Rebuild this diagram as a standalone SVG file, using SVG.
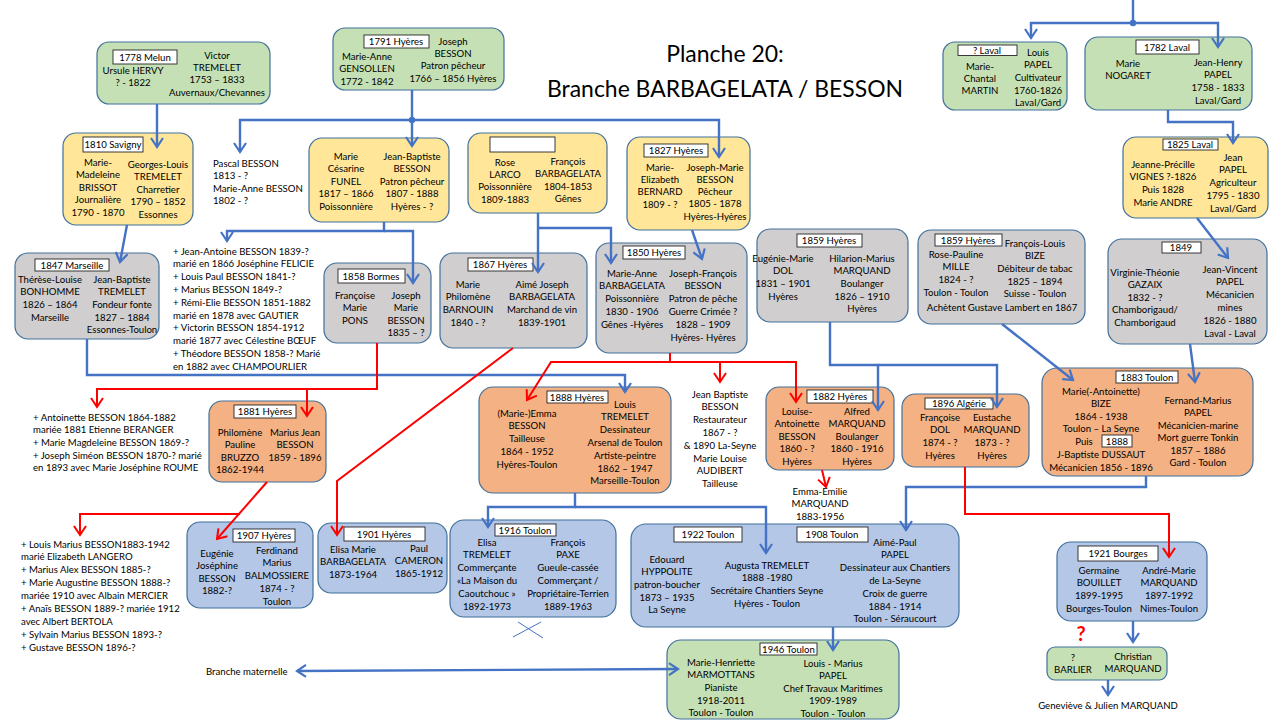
<svg xmlns="http://www.w3.org/2000/svg" width="1280" height="720" viewBox="0 0 1280 720">
<defs>
<style>
.nb{stroke:#41719C;stroke-width:1.2}
.g{fill:#C5E0B4}.y{fill:#FFE699}.gr{fill:#D0CECE}.o{fill:#F4B183}.b{fill:#B4C7E7}
.lb{fill:#fff;stroke:#262626;stroke-width:0.9}
text{font-family:Lato,"Liberation Sans",sans-serif;font-size:9.6px;fill:#000}
.c{text-anchor:middle}
.ttl{font-size:23px;text-anchor:middle;fill:#000}
.cb{fill:none;stroke:#4472C4;stroke-width:2.4}
.cr{fill:none;stroke:#FF0000;stroke-width:2}
.ab{marker-end:url(#mb)}.ar{marker-end:url(#mr)}
</style>
<marker id="mb" viewBox="0 0 12 14" refX="10" refY="7" markerWidth="12" markerHeight="14" markerUnits="userSpaceOnUse" orient="auto"><path d="M1,1 L10,7 L1,13" fill="none" stroke="#4472C4" stroke-width="2.2"/></marker>
<marker id="mbs" viewBox="0 0 12 14" refX="10" refY="7" markerWidth="12" markerHeight="14" markerUnits="userSpaceOnUse" orient="auto-start-reverse"><path d="M1,1 L10,7 L1,13" fill="none" stroke="#4472C4" stroke-width="2.2"/></marker>
<marker id="mr" viewBox="0 0 12 14" refX="10" refY="7" markerWidth="12" markerHeight="14" markerUnits="userSpaceOnUse" orient="auto"><path d="M1,1 L10,7 L1,13" fill="none" stroke="#FF0000" stroke-width="2"/></marker>
</defs>
<rect width="1280" height="720" fill="#fff"/>

<g id="title">
<text class="ttl" x="725" y="61.5">Planche 20:</text>
<text class="ttl" x="725" y="97" textLength="356" lengthAdjust="spacingAndGlyphs">Branche BARBAGELATA / BESSON</text>
</g>

<g id="n1778">
<rect class="nb g" x="97" y="42" width="173" height="62" rx="12"/>
<rect class="lb" x="113" y="50" width="64" height="14"/>
<text class="c" x="145" y="60.5">1778 Melun</text>
<text class="c" x="133" y="73.5"><tspan x="133">Ursule HERVY</tspan><tspan x="133" dy="12.5">? - 1822</tspan></text>
<text class="c" x="217" y="58.5"><tspan x="217">Victor</tspan><tspan x="217" dy="12.4">TREMELET</tspan><tspan x="217" dy="12.4">1753 – 1833</tspan><tspan x="217" dy="12.4">Auvernaux/Chevannes</tspan></text>
</g>

<g id="n1791">
<rect class="nb g" x="333" y="28" width="171" height="62" rx="12"/>
<rect class="lb" x="364" y="35" width="65" height="13"/>
<text class="c" x="396" y="45">1791 Hyères</text>
<text class="c" x="367" y="59.5"><tspan x="367">Marie-Anne</tspan><tspan x="367" dy="12.6">GENSOLLEN</tspan><tspan x="367" dy="12.6">1772 - 1842</tspan></text>
<text class="c" x="453" y="44.5"><tspan x="453">Joseph</tspan><tspan x="453" dy="12.4">BESSON</tspan><tspan x="453" dy="12.4">Patron pêcheur</tspan><tspan x="453" dy="12.4">1766 – 1856 Hyères</tspan></text>
</g>

<g id="n1810">
<rect class="nb y" x="63" y="133" width="130" height="92" rx="13"/>
<rect class="lb" x="83" y="137" width="60" height="15"/>
<text class="c" x="113" y="148">1810 Savigny</text>
<text class="c" x="98" y="165.5"><tspan x="98">Marie-</tspan><tspan x="98" dy="12.6">Madeleine</tspan><tspan x="98" dy="12.6">BRISSOT</tspan><tspan x="98" dy="12.6">Journalière</tspan><tspan x="98" dy="12.6">1790 - 1870</tspan></text>
<text class="c" x="158" y="167.5"><tspan x="158">Georges-Louis</tspan><tspan x="158" dy="12.6">TREMELET</tspan><tspan x="158" dy="12.6">Charretier</tspan><tspan x="158" dy="12.6">1790 – 1852</tspan><tspan x="158" dy="12.6">Essonnes</tspan></text>
</g>

<g id="pascal">
<text x="213" y="166.5"><tspan x="213">Pascal BESSON</tspan><tspan x="213" dy="12.5">1813 - ?</tspan><tspan x="213" dy="12.5">Marie-Anne BESSON</tspan><tspan x="213" dy="12.5">1802 - ?</tspan></text>
</g>

<g id="n1807">
<rect class="nb y" x="309" y="138" width="140" height="84" rx="13"/>
<text class="c" x="346" y="159.5"><tspan x="346">Marie</tspan><tspan x="346" dy="12.5">Césarine</tspan><tspan x="346" dy="12.5">FUNEL</tspan><tspan x="346" dy="12.5">1817 – 1866</tspan><tspan x="346" dy="12.5">Poissonnière</tspan></text>
<text class="c" x="412" y="159.5"><tspan x="412">Jean-Baptiste</tspan><tspan x="412" dy="12.5">BESSON</tspan><tspan x="412" dy="12.5">Patron pêcheur</tspan><tspan x="412" dy="12.5">1807 - 1888</tspan><tspan x="412" dy="12.5">Hyères - ?</tspan></text>
</g>

<g id="nLarco">
<rect class="nb y" x="468" y="133" width="139" height="80" rx="13"/>
<rect class="lb" x="490" y="137" width="65" height="15"/>
<text class="c" x="505" y="165.5"><tspan x="505">Rose</tspan><tspan x="505" dy="12.4">LARCO</tspan><tspan x="505" dy="12.4">Poissonnière</tspan><tspan x="505" dy="12.4">1809-1883</tspan></text>
<text class="c" x="568" y="164.5"><tspan x="568">François</tspan><tspan x="568" dy="12.6">BARBAGELATA</tspan><tspan x="568" dy="12.6">1804-1853</tspan><tspan x="568" dy="12.6">Gênes</tspan></text>
</g>

<g id="n1827">
<rect class="nb y" x="627" y="137" width="123" height="93" rx="13"/>
<rect class="lb" x="644" y="144" width="64" height="13"/>
<text class="c" x="676" y="154">1827 Hyères</text>
<text class="c" x="660" y="170.5"><tspan x="660">Marie-</tspan><tspan x="660" dy="12.4">Elizabeth</tspan><tspan x="660" dy="12.4">BERNARD</tspan><tspan x="660" dy="12.4">1809 - ?</tspan></text>
<text class="c" x="715" y="170.5"><tspan x="715">Joseph-Marie</tspan><tspan x="715" dy="12.3">BESSON</tspan><tspan x="715" dy="12.3">Pêcheur</tspan><tspan x="715" dy="12.3">1805 - 1878</tspan><tspan x="715" dy="12.3">Hyères-Hyères</tspan></text>
</g>

<g id="n1847">
<rect class="nb gr" x="15" y="253" width="144" height="86" rx="13"/>
<rect class="lb" x="35" y="259" width="74" height="12"/>
<text class="c" x="72" y="268.5">1847 Marseille</text>
<text class="c" x="50" y="282.5"><tspan x="50">Thérèse-Louise</tspan><tspan x="50" dy="12.7">BONHOMME</tspan><tspan x="50" dy="12.7">1826 – 1864</tspan><tspan x="50" dy="12.7">Marseille</tspan></text>
<text class="c" x="122" y="282.5"><tspan x="122">Jean-Baptiste</tspan><tspan x="122" dy="12.7">TREMELET</tspan><tspan x="122" dy="12.7">Fondeur fonte</tspan><tspan x="122" dy="12.7">1827 – 1884</tspan><tspan x="122" dy="12.7">Essonnes-Toulon</tspan></text>
</g>

<g id="list1">
<text x="173" y="254.5"><tspan x="173">+ Jean-Antoine BESSON 1839-?</tspan><tspan x="173" dy="12.8">marié en 1866 Joséphine FELICIE</tspan><tspan x="173" dy="12.8">+ Louis Paul BESSON 1841-?</tspan><tspan x="173" dy="12.8">+ Marius BESSON 1849-?</tspan><tspan x="173" dy="12.8">+ Rémi-Elie BESSON 1851-1882</tspan><tspan x="173" dy="12.8">marié en 1878 avec GAUTIER</tspan><tspan x="173" dy="12.8">+ Victorin BESSON 1854-1912</tspan><tspan x="173" dy="12.8">marié 1877 avec Célestine BŒUF</tspan><tspan x="173" dy="12.8">+ Théodore BESSON 1858-? Marié</tspan><tspan x="173" dy="12.8">en 1882 avec CHAMPOURLIER</tspan></text>
</g>

<g id="n1858">
<rect class="nb gr" x="324" y="263" width="107" height="80" rx="13"/>
<rect class="lb" x="338" y="269" width="67" height="14"/>
<text class="c" x="371" y="279.5">1858 Bormes</text>
<text class="c" x="355" y="298.5"><tspan x="355">Françoise</tspan><tspan x="355" dy="12.6">Marie</tspan><tspan x="355" dy="12.6">PONS</tspan></text>
<text class="c" x="406" y="298.5"><tspan x="406">Joseph</tspan><tspan x="406" dy="12.6">Marie</tspan><tspan x="406" dy="12.6">BESSON</tspan><tspan x="406" dy="12.6">1835 – ?</tspan></text>
</g>

<g id="n1867">
<rect class="nb gr" x="440" y="253" width="147" height="95" rx="13"/>
<rect class="lb" x="468" y="258" width="65" height="13"/>
<text class="c" x="500" y="268">1867 Hyères</text>
<text class="c" x="468" y="287.5"><tspan x="468">Marie</tspan><tspan x="468" dy="12.7">Philomène</tspan><tspan x="468" dy="12.7">BARNOUIN</tspan><tspan x="468" dy="12.7">1840 - ?</tspan></text>
<text class="c" x="542" y="287.5"><tspan x="542">Aimé Joseph</tspan><tspan x="542" dy="12.7">BARBAGELATA</tspan><tspan x="542" dy="12.7">Marchand de vin</tspan><tspan x="542" dy="12.7">1839-1901</tspan></text>
</g>

<g id="n1850">
<rect class="nb gr" x="596" y="243" width="151" height="110" rx="13"/>
<rect class="lb" x="623" y="246" width="62" height="13"/>
<text class="c" x="654" y="256">1850 Hyères</text>
<text class="c" x="632" y="276.5"><tspan x="632">Marie-Anne</tspan><tspan x="632" dy="12.8">BARBAGELATA</tspan><tspan x="632" dy="12.8">Poissonnière</tspan><tspan x="632" dy="12.8">1830 - 1906</tspan><tspan x="632" dy="12.8">Gênes -Hyères</tspan></text>
<text class="c" x="703" y="276.5"><tspan x="703">Joseph-François</tspan><tspan x="703" dy="12.8">BESSON</tspan><tspan x="703" dy="12.8">Patron de pêche</tspan><tspan x="703" dy="12.8">Guerre Crimée ?</tspan><tspan x="703" dy="12.8">1828 – 1909</tspan><tspan x="703" dy="12.8">Hyères- Hyères</tspan></text>
</g>

<g id="n1859a">
<rect class="nb gr" x="757" y="229" width="151" height="93" rx="13"/>
<rect class="lb" x="797" y="234" width="65" height="13"/>
<text class="c" x="829" y="244">1859 Hyères</text>
<text class="c" x="783" y="261.5"><tspan x="783">Eugénie-Marie</tspan><tspan x="783" dy="12.7">DOL</tspan><tspan x="783" dy="12.7">1831 – 1901</tspan><tspan x="783" dy="12.7">Hyères</tspan></text>
<text class="c" x="862" y="261.5"><tspan x="862">Hilarion-Marius</tspan><tspan x="862" dy="12.7">MARQUAND</tspan><tspan x="862" dy="12.7">Boulanger</tspan><tspan x="862" dy="12.7">1826 – 1910</tspan><tspan x="862" dy="12.7">Hyères</tspan></text>
</g>

<g id="n1859b">
<rect class="nb gr" x="918" y="230" width="167" height="94" rx="13"/>
<rect class="lb" x="935" y="234" width="67" height="12"/>
<text class="c" x="968" y="243.5">1859  Hyères</text>
<text class="c" x="956" y="257.5"><tspan x="956">Rose-Pauline</tspan><tspan x="956" dy="12.8">MILLE</tspan><tspan x="956" dy="12.8">1824 - ?</tspan><tspan x="956" dy="12.8">Toulon - Toulon</tspan></text>
<text class="c" x="1035" y="246.5"><tspan x="1035">François-Louis</tspan><tspan x="1035" dy="12.7">BIZE</tspan><tspan x="1035" dy="12.7">Débiteur de tabac</tspan><tspan x="1035" dy="12.7">1825 – 1894</tspan><tspan x="1035" dy="12.7">Suisse - Toulon</tspan></text>
<text class="c" x="1002" y="310.5">Achètent Gustave Lambert en 1867</text>
</g>

<g id="n1849">
<rect class="nb gr" x="1108" y="239" width="159" height="105" rx="14"/>
<rect class="lb" x="1162" y="242" width="39" height="11"/>
<text class="c" x="1181" y="251">1849</text>
<text class="c" x="1145" y="275.5"><tspan x="1145">Virginie-Théonie</tspan><tspan x="1145" dy="12.6">GAZAIX</tspan><tspan x="1145" dy="12.6">1832 - ?</tspan><tspan x="1145" dy="12.6">Chamborigaud/</tspan><tspan x="1145" dy="12.6">Chamborigaud</tspan></text>
<text class="c" x="1230" y="272.5"><tspan x="1230">Jean-Vincent</tspan><tspan x="1230" dy="12.8">PAPEL</tspan><tspan x="1230" dy="12.8">Mécanicien</tspan><tspan x="1230" dy="12.8">mines</tspan><tspan x="1230" dy="12.8">1826 - 1880</tspan><tspan x="1230" dy="12.8">Laval - Laval</tspan></text>
</g>

<g id="n1825">
<rect class="nb y" x="1123" y="137" width="145" height="81" rx="13"/>
<rect class="lb" x="1163" y="139" width="55" height="11"/>
<text class="c" x="1190" y="148">1825 Laval</text>
<text class="c" x="1163" y="167.5"><tspan x="1163">Jeanne-Précille</tspan><tspan x="1163" dy="12.7">VIGNES ?-1826</tspan><tspan x="1163" dy="12.7">Puis  1828</tspan><tspan x="1163" dy="12.7">Marie ANDRE</tspan></text>
<text class="c" x="1233" y="160.5"><tspan x="1233">Jean</tspan><tspan x="1233" dy="12.8">PAPEL</tspan><tspan x="1233" dy="12.8">Agriculteur</tspan><tspan x="1233" dy="12.8">1795 - 1830</tspan><tspan x="1233" dy="12.8">Laval/Gard</tspan></text>
</g>

<g id="nLaval">
<rect class="nb g" x="943" y="42" width="124" height="68" rx="12"/>
<rect class="lb" x="958" y="45" width="59" height="10.5"/>
<text class="c" x="987" y="54">?  Laval</text>
<text class="c" x="980" y="69.5"><tspan x="980">Marie-</tspan><tspan x="980" dy="12.3">Chantal</tspan><tspan x="980" dy="12.3">MARTIN</tspan></text>
<text class="c" x="1038" y="55.5"><tspan x="1038">Louis</tspan><tspan x="1038" dy="12.7">PAPEL</tspan><tspan x="1038" dy="12.7">Cultivateur</tspan><tspan x="1038" dy="12.7">1760-1826</tspan><tspan x="1038" dy="12.7">Laval/Gard</tspan></text>
</g>

<g id="n1782">
<rect class="nb g" x="1085" y="37" width="167" height="73" rx="13"/>
<rect class="lb" x="1136" y="40" width="63" height="14"/>
<text class="c" x="1167" y="50.5">1782 Laval</text>
<text class="c" x="1128" y="66.5"><tspan x="1128">Marie</tspan><tspan x="1128" dy="12.7">NOGARET</tspan></text>
<text class="c" x="1218" y="65.5"><tspan x="1218">Jean-Henry</tspan><tspan x="1218" dy="12.7">PAPEL</tspan><tspan x="1218" dy="12.7">1758 - 1833</tspan><tspan x="1218" dy="12.7">Laval/Gard</tspan></text>
</g>

<g id="list2">
<text x="33" y="420.5"><tspan x="33">+ Antoinette BESSON 1864-1882</tspan><tspan x="33" dy="12.7">mariée 1881 Etienne BERANGER</tspan><tspan x="33" dy="12.7">+ Marie Magdeleine BESSON 1869-?</tspan><tspan x="33" dy="12.7">+ Joseph Siméon BESSON 1870-? marié</tspan><tspan x="33" dy="12.7">en 1893 avec Marie Joséphine ROUME</tspan></text>
</g>

<g id="n1881">
<rect class="nb o" x="209" y="401" width="117" height="81" rx="13"/>
<rect class="lb" x="234" y="405" width="62" height="13"/>
<text class="c" x="265" y="415">1881 Hyères</text>
<text class="c" x="240" y="435.5"><tspan x="240">Philomène</tspan><tspan x="240" dy="12.5">Pauline</tspan><tspan x="240" dy="12.5">BRUZZO</tspan><tspan x="240" dy="12.5">1862-1944</tspan></text>
<text class="c" x="295" y="435.5"><tspan x="295">Marius Jean</tspan><tspan x="295" dy="12.5">BESSON</tspan><tspan x="295" dy="12.5">1859 - 1896</tspan></text>
</g>

<g id="n1888">
<rect class="nb o" x="479" y="387" width="192" height="106" rx="14"/>
<rect class="lb" x="547" y="391" width="61" height="12"/>
<text class="c" x="577" y="400.5">1888 Hyères</text>
<text class="c" x="527" y="416.5"><tspan x="527">(Marie-)Emma</tspan><tspan x="527" dy="12.9">BESSON</tspan><tspan x="527" dy="12.9">Tailleuse</tspan><tspan x="527" dy="12.9">1864 - 1952</tspan><tspan x="527" dy="12.9">Hyères-Toulon</tspan></text>
<text class="c" x="625" y="407.5"><tspan x="625">Louis</tspan><tspan x="625" dy="12.8">TREMELET</tspan><tspan x="625" dy="12.8">Dessinateur</tspan><tspan x="625" dy="12.8">Arsenal de Toulon</tspan><tspan x="625" dy="12.8">Artiste-peintre</tspan><tspan x="625" dy="12.8">1862 – 1947</tspan><tspan x="625" dy="12.8">Marseille-Toulon</tspan></text>
</g>

<g id="jeanbaptiste">
<text class="c" x="720" y="397.5"><tspan x="720">Jean Baptiste</tspan><tspan x="720" dy="12.8">BESSON</tspan><tspan x="720" dy="12.8">Restaurateur</tspan><tspan x="720" dy="12.8">1867 - ?</tspan><tspan x="720" dy="12.8">&amp; 1890 La-Seyne</tspan><tspan x="720" dy="12.8">Marie Louise</tspan><tspan x="720" dy="12.8">AUDIBERT</tspan><tspan x="720" dy="12.8">Tailleuse</tspan></text>
</g>

<g id="n1882">
<rect class="nb o" x="766" y="387" width="128" height="83" rx="13"/>
<rect class="lb" x="807" y="390" width="66" height="13"/>
<text class="c" x="840" y="400">1882 Hyères</text>
<text class="c" x="797" y="414.5"><tspan x="797">Louise-</tspan><tspan x="797" dy="12.6">Antoinette</tspan><tspan x="797" dy="12.6">BESSON</tspan><tspan x="797" dy="12.6">1860 - ?</tspan><tspan x="797" dy="12.6">Hyères</tspan></text>
<text class="c" x="857" y="414.5"><tspan x="857">Alfred</tspan><tspan x="857" dy="12.6">MARQUAND</tspan><tspan x="857" dy="12.6">Boulanger</tspan><tspan x="857" dy="12.6">1860 - 1916</tspan><tspan x="857" dy="12.6">Hyères</tspan></text>
</g>

<g id="emma">
<text class="c" x="820" y="494.5"><tspan x="820">Emma-Emilie</tspan><tspan x="820" dy="12.6">MARQUAND</tspan><tspan x="820" dy="12.6">1883-1956</tspan></text>
</g>

<g id="n1896">
<rect class="nb o" x="902" y="394" width="127" height="73" rx="13"/>
<rect class="lb" x="925" y="398" width="68" height="11"/>
<text class="c" x="959" y="407">1896 Algérie</text>
<text class="c" x="940" y="420.5"><tspan x="940">Françoise</tspan><tspan x="940" dy="12.7">DOL</tspan><tspan x="940" dy="12.7">1874 - ?</tspan><tspan x="940" dy="12.7">Hyères</tspan></text>
<text class="c" x="992" y="420.5"><tspan x="992">Eustache</tspan><tspan x="992" dy="12.7">MARQUAND</tspan><tspan x="992" dy="12.7">1873 - ?</tspan><tspan x="992" dy="12.7">Hyères</tspan></text>
</g>

<g id="n1883">
<rect class="nb o" x="1042" y="368" width="211" height="108" rx="15"/>
<rect class="lb" x="1116" y="371" width="62" height="12"/>
<text class="c" x="1147" y="380.5">1883 Toulon</text>
<text class="c" x="1101" y="394.5"><tspan x="1101">Marie(-Antoinette)</tspan><tspan x="1101" dy="12.5">BIZE</tspan><tspan x="1101" dy="12.5">1864 - 1938</tspan><tspan x="1101" dy="12.5">Toulon – La Seyne</tspan></text>
<text class="c" x="1084" y="444.5">Puis</text>
<rect class="lb" x="1102" y="435" width="30" height="12"/>
<text class="c" x="1117" y="444.5">1888</text>
<text class="c" x="1101" y="457.5"><tspan x="1101">J-Baptiste DUSSAUT</tspan><tspan x="1101" dy="13">Mécanicien 1856 - 1896</tspan></text>
<text class="c" x="1198" y="403.5"><tspan x="1198">Fernand-Marius</tspan><tspan x="1198" dy="12.5">PAPEL</tspan><tspan x="1198" dy="12.5">Mécanicien-marine</tspan><tspan x="1198" dy="12.5">Mort guerre Tonkin</tspan><tspan x="1198" dy="12.5">1857 – 1886</tspan><tspan x="1198" dy="12.5">Gard - Toulon</tspan></text>
</g>

<g id="list3">
<text x="21" y="547.5"><tspan x="21">+ Louis Marius BESSON1883-1942</tspan><tspan x="21" dy="12.9">marié Elizabeth LANGERO</tspan><tspan x="21" dy="12.9">+ Marius Alex BESSON 1885-?</tspan><tspan x="21" dy="12.9">+ Marie Augustine BESSON 1888-?</tspan><tspan x="21" dy="12.9">mariée  1910 avec Albain MERCIER</tspan><tspan x="21" dy="12.9">+ Anaïs BESSON 1889-? mariée 1912</tspan><tspan x="21" dy="12.9">avec Albert BERTOLA</tspan><tspan x="21" dy="12.9">+ Sylvain Marius BESSON 1893-?</tspan><tspan x="21" dy="12.9">+ Gustave BESSON 1896-?</tspan></text>
</g>

<g id="n1907">
<rect class="nb b" x="187" y="522" width="126" height="86" rx="13"/>
<rect class="lb" x="233" y="529" width="62" height="13"/>
<text class="c" x="264" y="539">1907 Hyères</text>
<text class="c" x="217" y="556.5"><tspan x="217">Eugénie</tspan><tspan x="217" dy="12.6">Joséphine</tspan><tspan x="217" dy="12.6">BESSON</tspan><tspan x="217" dy="12.6">1882-?</tspan></text>
<text class="c" x="277" y="553.5"><tspan x="277">Ferdinand</tspan><tspan x="277" dy="12.9">Marius</tspan><tspan x="277" dy="12.9">BALMOSSIERE</tspan><tspan x="277" dy="12.9">1874 - ?</tspan><tspan x="277" dy="12.9">Toulon</tspan></text>
</g>

<g id="n1901">
<rect class="nb b" x="318" y="523" width="129" height="70" rx="13"/>
<rect class="lb" x="344" y="527" width="81" height="14"/>
<text class="c" x="384" y="537.5">1901 Hyères</text>
<text class="c" x="353" y="552.5"><tspan x="353">Elisa Marie</tspan><tspan x="353" dy="12.7">BARBAGELATA</tspan><tspan x="353" dy="12.7">1873-1964</tspan></text>
<text class="c" x="419" y="551.5"><tspan x="419">Paul</tspan><tspan x="419" dy="12.7">CAMERON</tspan><tspan x="419" dy="12.7">1865-1912</tspan></text>
</g>

<g id="n1916">
<rect class="nb b" x="450" y="520" width="166" height="97" rx="14"/>
<rect class="lb" x="495" y="524" width="61" height="12"/>
<text class="c" x="525" y="533.5">1916 Toulon</text>
<text class="c" x="487" y="545.5"><tspan x="487">Elisa</tspan><tspan x="487" dy="12.8">TREMELET</tspan><tspan x="487" dy="12.8">Commerçante</tspan><tspan x="487" dy="12.8">«La Maison du</tspan><tspan x="487" dy="12.8">Caoutchouc »</tspan><tspan x="487" dy="12.8">1892-1973</tspan></text>
<text class="c" x="568" y="545.5"><tspan x="568">François</tspan><tspan x="568" dy="12.8">PAXE</tspan><tspan x="568" dy="12.8">Gueule-cassée</tspan><tspan x="568" dy="12.8">Commerçant /</tspan><tspan x="568" dy="12.8">Propriétaire-Terrien</tspan><tspan x="568" dy="12.8">1889-1963</tspan></text>
</g>

<g id="n1922">
<rect class="nb b" x="631" y="524" width="328" height="103" rx="15"/>
<rect class="lb" x="674" y="527" width="68" height="15"/>
<text class="c" x="708" y="538">1922 Toulon</text>
<rect class="lb" x="797" y="527" width="71" height="15"/>
<text class="c" x="832" y="538">1908 Toulon</text>
<text class="c" x="667" y="562.5"><tspan x="667">Edouard</tspan><tspan x="667" dy="12.7">HYPPOLITE</tspan><tspan x="667" dy="12.7">patron-boucher</tspan><tspan x="667" dy="12.7">1873 – 1935</tspan><tspan x="667" dy="12.7">La Seyne</tspan></text>
<text class="c" x="767" y="568.5"><tspan x="767">Augusta TREMELET</tspan><tspan x="767" dy="12.7">1888 -1980</tspan><tspan x="767" dy="12.7">Secrétaire Chantiers Seyne</tspan><tspan x="767" dy="12.7">Hyères - Toulon</tspan></text>
<text class="c" x="895" y="545.5"><tspan x="895">Aimé-Paul</tspan><tspan x="895" dy="12.8">PAPEL</tspan><tspan x="895" dy="12.8">Dessinateur aux Chantiers</tspan><tspan x="895" dy="12.8">de La-Seyne</tspan><tspan x="895" dy="12.8">Croix de guerre</tspan><tspan x="895" dy="12.8">1884 - 1914</tspan><tspan x="895" dy="12.8">Toulon - Séraucourt</tspan></text>
</g>

<g id="maternelle">
<text x="206" y="674.5">Branche maternelle</text>
</g>

<g id="n1946">
<rect class="nb g" x="667" y="640" width="232" height="79" rx="14"/>
<rect class="lb" x="760" y="643" width="57" height="12"/>
<text class="c" x="788.5" y="652.5">1946 Toulon</text>
<text class="c" x="721" y="665.5"><tspan x="721">Marie-Henriette</tspan><tspan x="721" dy="12.7">MARMOTTANS</tspan><tspan x="721" dy="12.7">Pianiste</tspan><tspan x="721" dy="12.7">1918-2011</tspan><tspan x="721" dy="12.7">Toulon - Toulon</tspan></text>
<text class="c" x="833" y="666.5"><tspan x="833">Louis - Marius</tspan><tspan x="833" dy="12.5">PAPEL</tspan><tspan x="833" dy="12.5">Chef Travaux Maritimes</tspan><tspan x="833" dy="12.5">1909-1989</tspan><tspan x="833" dy="12.5">Toulon - Toulon</tspan></text>
</g>

<g id="n1921">
<rect class="nb b" x="1057" y="542" width="150" height="79" rx="14"/>
<rect class="lb" x="1078" y="546" width="80" height="15"/>
<text class="c" x="1118" y="557">1921 Bourges</text>
<text class="c" x="1099" y="573.5"><tspan x="1099">Germaine</tspan><tspan x="1099" dy="12.7">BOUILLET</tspan><tspan x="1099" dy="12.7">1899-1995</tspan><tspan x="1099" dy="12.7">Bourges-Toulon</tspan></text>
<text class="c" x="1169" y="573.5"><tspan x="1169">André-Marie</tspan><tspan x="1169" dy="12.7">MARQUAND</tspan><tspan x="1169" dy="12.7">1897-1992</tspan><tspan x="1169" dy="12.7">Nimes-Toulon</tspan></text>
</g>

<g id="question">
<text class="c" x="1081" y="641" style="font-size:20px;font-weight:bold;fill:#FF0000">?</text>
</g>

<g id="nChristian">
<rect class="nb g" x="1047" y="647" width="120" height="33" rx="8"/>
<text class="c" x="1073" y="660.5"><tspan x="1073">?</tspan><tspan x="1073" dy="12.5">BARLIER</tspan></text>
<text class="c" x="1133" y="659.5"><tspan x="1133">Christian</tspan><tspan x="1133" dy="12.5">MARQUAND</tspan></text>
</g>

<g id="genevieve">
<text class="c" x="1108" y="708.5">Geneviève &amp; Julien MARQUAND</text>
</g>

<g id="connectors">
<path class="cb ab" d="M157,104 L157,147"/>
<path class="cb" d="M412,90 L412,120"/>
<path class="cb ab" d="M412,120 L240,120 L240,152"/>
<path class="cb ab" d="M412,120 L412,146"/>
<path class="cb ab" d="M412,120 L719,120 L719,157"/>
<circle cx="412" cy="120" r="3.2" fill="#4472C4"/>
<path class="cb ab" d="M384,222 L384,231 L227,231 L227,241"/>
<path class="cb ab" d="M384,231 L413,231 L413,283"/>
<path class="cb ab" d="M538,213 L538,272"/>
<path class="cb ab" d="M538,228 L611,228 L611,263"/>
<path class="cb ab" d="M692,230 L702,259"/>
<path class="cb ab" d="M127,225 L120,262"/>
<path class="cb ab" d="M87,339 L87,375 L625,375 L625,392"/>
<path class="cb ab" d="M830,322 L830,365 L878,365 L878,410"/>
<path class="cb ab" d="M878,365 L997,365 L997,407"/>
<path class="cb ab" d="M1002,324 L1073,380"/>
<path class="cb ab" d="M1190,344 L1195,382"/>
<path class="cb ab" d="M1197,218 L1228,258"/>
<path class="cb" d="M1133,0 L1133,23"/>
<path class="cb ab" d="M1133,23 L1031,23 L1031,38"/>
<path class="cb ab" d="M1133,23 L1218,23 L1218,47"/>
<circle cx="1133" cy="23" r="3.2" fill="#4472C4"/>
<path class="cb ab" d="M1168,110 L1168,122 L1233,122 L1233,143"/>
<path class="cb ab" d="M1146,476 L1146,487 L906,487 L906,530"/>
<path class="cb ab" d="M575,493 L575,507 L488,507 L488,527"/>
<path class="cb ab" d="M575,507 L766,507 L766,553"/>
<path class="cb ab" d="M833,627 L833,650"/>
<path class="cb" d="M297,671 L678,669" marker-start="url(#mbs)" marker-end="url(#mb)"/>
<path class="cb ab" d="M1133,621 L1133,642"/>
<path class="cb ab" d="M1108,680 L1108,695"/>
<path d="M513,637 L541,622 M518,622 L543,638" fill="none" stroke="#4472C4" stroke-width="1"/>
<path class="cr ar" d="M377,343 L377,389 L97,389 L97,407"/>
<path class="cr ar" d="M307,389 L307,416"/>
<path class="cr ar" d="M267,482 L217,539"/>
<path class="cr ar" d="M240,514 L80,514 L80,535"/>
<path class="cr ar" d="M513,348 L337,481 L337,535"/>
<path class="cr ar" d="M670,353 L670,362 L551,362 L527,400"/>
<path class="cr ar" d="M670,362 L796,362 L796,402"/>
<path class="cr ar" d="M720,362 L720,382"/>
<path class="cr ar" d="M822,470 L826,487"/>
<path class="cr ar" d="M965,467 L965,514 L1169,514 L1169,557"/>
</g>
</svg>
